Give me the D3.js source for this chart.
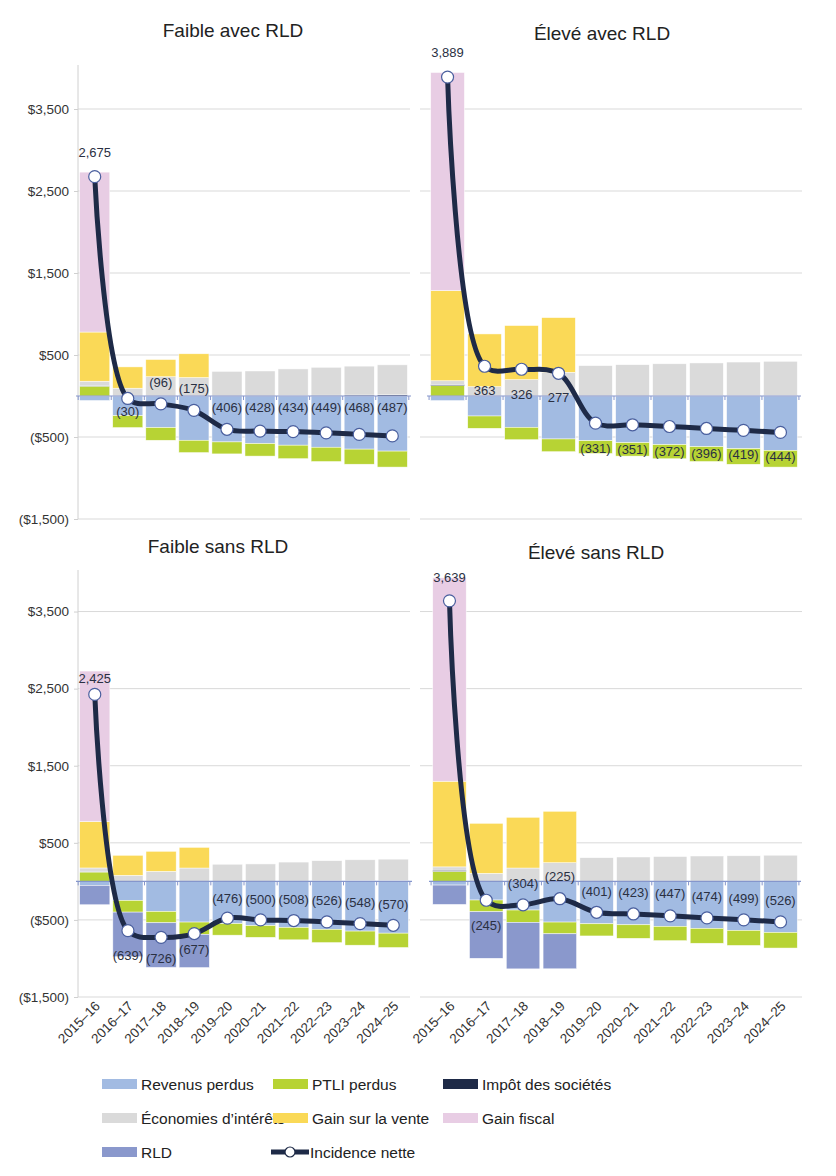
<!DOCTYPE html>
<html><head><meta charset="utf-8">
<script src="https://cdnjs.cloudflare.com/ajax/libs/d3/7.8.5/d3.min.js"></script>
<style>body{margin:0;background:#fff}svg{font-family:"Liberation Sans",Arial,sans-serif}</style>
</head><body><svg id="c" width="836" height="1176"></svg>
<script>
const years=["2015–16","2016–17","2017–18","2018–19","2019–20","2020–21","2021–22","2022–23","2023–24","2024–25"];
const seriesKeys=["revenus","ptli","impot","econ","vente","fiscal","rld"];
const seriesNames=["Revenus perdus","PTLI perdus","Impôt des sociétés","Économies d’intérêts","Gain sur la vente","Gain fiscal","RLD"];
const seriesColors=["#a2bbe2","#b7d334","#1e2a47","#dadada","#fad957","#e8cde4","#8a98cc"];
const yTicks=[-1500,-500,500,1500,2500,3500];
const titles=["Faible avec RLD","Élevé avec RLD","Faible sans RLD","Élevé sans RLD"];

// Faible avec RLD
const p1_revenus=[-55,-240,-385,-540,-560,-580,-600,-625,-648,-672];
const p1_ptli=[120,-145,-155,-150,-146,-153,-164,-174,-184,-195];
const p1_impot=[10,0,0,0,0,0,5,10,12,15];
const p1_econ=[50,95,235,225,300,305,325,340,352,365];
const p1_vente=[600,260,210,290,0,0,0,0,0,0];
const p1_fiscal=[1950,0,0,0,0,0,0,0,0,0];
const p1_rld=[0,0,0,0,0,0,0,0,0,0];
const p1_net=[2675,-30,-96,-175,-406,-428,-434,-449,-468,-487];
const p1_labelAt=[2970,-180,170,100,-135,-135,-135,-135,-135,-135];
// Élevé avec RLD
const p2_revenus=[-56,-244,-382,-524,-545,-569,-593,-618,-642,-663];
const p2_ptli=[126,-150,-151,-155,-156,-164,-172,-181,-191,-204];
const p2_impot=[15,0,0,0,0,0,3,5,7,8];
const p2_econ=[45,114,200,289,370,382,390,398,407,415];
const p2_vente=[1100,643,659,667,0,0,0,0,0,0];
const p2_fiscal=[2659,0,0,0,0,0,0,0,0,0];
const p2_rld=[0,0,0,0,0,0,0,0,0,0];
const p2_net=[3889,363,326,277,-331,-351,-372,-396,-419,-444];
const p2_labelAt=[4190,75,30,-10,-630,-650,-670,-690,-710,-735];
// Faible sans RLD
const p3_revenus=[-52,-247,-390,-528,-548,-574,-597,-622,-645,-672];
const p3_ptli=[121,-152,-147,-160,-150,-152,-161,-172,-183,-186];
const p3_impot=[10,0,0,0,0,0,3,6,8,8];
const p3_econ=[43,78,130,173,222,226,247,262,272,280];
const p3_vente=[602,260,260,268,0,0,0,0,0,0];
const p3_fiscal=[1952,0,0,0,0,0,0,0,0,0];
const p3_rld=[-251,-578,-579,-430,0,0,0,0,0,0];
const p3_net=[2425,-639,-726,-677,-476,-500,-508,-526,-548,-570];
const p3_labelAt=[2636,-960,-990,-880,-210,-225,-225,-245,-270,-300];
// Élevé sans RLD
const p4_revenus=[-48,-242,-372,-528,-550,-563,-584,-610,-636,-662];
const p4_ptli=[130,-152,-160,-152,-158,-176,-185,-193,-195,-203];
const p4_impot=[15,0,0,0,0,0,2,2,3,3];
const p4_econ=[43,104,173,242,307,316,320,327,329,336];
const p4_vente=[1111,649,658,667,0,0,0,0,0,0];
const p4_fiscal=[2639,0,0,0,0,0,0,0,0,0];
const p4_rld=[-251,-604,-603,-454,0,0,0,0,0,0];
const p4_net=[3639,-245,-304,-225,-401,-423,-447,-474,-499,-526];
const p4_labelAt=[3950,-570,-15,65,-120,-140,-155,-195,-220,-245];

const panels=[
 {s:[p1_revenus,p1_ptli,p1_impot,p1_econ,p1_vente,p1_fiscal,p1_rld],net:p1_net,lab:p1_labelAt,x0:79,x1:408,y0:68,y1:519,axis:true,tx:233,ty:37,xl:false,gx0:78,gx1:410},
 {s:[p2_revenus,p2_ptli,p2_impot,p2_econ,p2_vente,p2_fiscal,p2_rld],net:p2_net,lab:p2_labelAt,x0:430,x1:798,y0:68,y1:519,axis:false,tx:602,ty:40,xl:false,gx0:420,gx1:802},
 {s:[p3_revenus,p3_ptli,p3_impot,p3_econ,p3_vente,p3_fiscal,p3_rld],net:p3_net,lab:p3_labelAt,x0:79,x1:409,y0:573,y1:997,axis:true,tx:218,ty:553,xl:true,gx0:78,gx1:410},
 {s:[p4_revenus,p4_ptli,p4_impot,p4_econ,p4_vente,p4_fiscal,p4_rld],net:p4_net,lab:p4_labelAt,x0:432,x1:798,y0:573,y1:997,axis:false,tx:596,ty:559,xl:true,gx0:420,gx1:802}
];
const svg=d3.select("#c");
const fmt=v=>{const s=d3.format(",")(Math.abs(v));return v<0?"("+s+")":s;};
const fmtAx=v=>{const s="$"+d3.format(",")(Math.abs(v));return v<0?"("+s+")":s;};

panels.forEach((p,pi)=>{
  const g=svg.append("g");
  const x=d3.scaleBand().domain(years).range([p.x0,p.x1]).paddingInner(0.09).paddingOuter(0.02);
  const y=d3.scaleLinear().domain([-1500,4000]).range([p.y1,p.y0]);
  // grid
  g.selectAll(".gr").data(yTicks).join("line").attr("x1",p.gx0).attr("x2",p.gx1)
   .attr("y1",d=>y(d)).attr("y2",d=>y(d)).attr("stroke","#d9d9d9").attr("stroke-width",1);
  if(p.axis){
    const ax=g.append("g").attr("transform",`translate(${p.gx0},0)`)
     .call(d3.axisLeft(y).tickValues(yTicks).tickFormat(fmtAx).tickSize(4).tickPadding(5));
    ax.select(".domain").attr("stroke","#d0d0d0").attr("d",`M0,${p.y0-3}V${p.y1}`);
    ax.selectAll(".tick line").attr("stroke","#d0d0d0");
    ax.selectAll("text").attr("font-size",13.5).attr("fill","#333").attr("font-family","Liberation Sans,Arial");
  }
  // stacked data
  const rows=years.map((yr,i)=>{const o={year:yr};seriesKeys.forEach((k,j)=>o[k]=p.s[j][i]);return o;});
  const stack=d3.stack().keys(seriesKeys).offset(d3.stackOffsetDiverging)(rows);
  stack.forEach((layer,j)=>{
    g.selectAll(null).data(layer.filter(d=>d[1]!==d[0])).join("rect")
     .attr("x",d=>x(d.data.year)).attr("width",x.bandwidth())
     .attr("y",d=>y(Math.max(d[0],d[1]))).attr("height",d=>Math.abs(y(d[0])-y(d[1])))
     .attr("fill",seriesColors[j]).attr("stroke","#fff").attr("stroke-width",0.6).attr("stroke-opacity",0.8);
  });
  // zero axis
  g.append("line").attr("x1",p.x0-3).attr("x2",p.x1+3).attr("y1",y(0)).attr("y2",y(0)).attr("stroke","#8596cc").attr("stroke-width",1.2);
  const step=x.step();
  const bnd=d3.range(11).map(i=>p.x0+x.paddingOuter()*step - x.paddingInner()*step/2 + i*step);
  g.selectAll(null).data(bnd).join("line").attr("x1",d=>d).attr("x2",d=>d).attr("y1",y(0)).attr("y2",y(0)+4).attr("stroke","#8596cc");
  // net line
  const cx=i=>x(years[i])+x.bandwidth()/2;
  const line=d3.line().x((d,i)=>cx(i)).y(d=>y(d)).curve(d3.curveCatmullRom.alpha(0.5));
  g.append("path").attr("d",line(p.net)).attr("fill","none").attr("stroke","#1e2a47").attr("stroke-width",5);
  g.selectAll(null).data(p.net).join("circle").attr("cx",(d,i)=>cx(i)).attr("cy",d=>y(d)).attr("r",6)
   .attr("fill","#fff").attr("stroke","#4a5f9e").attr("stroke-width",1.2);
  g.selectAll(null).data(p.net).join("text").attr("x",(d,i)=>cx(i)).attr("y",(d,i)=>y(p.lab[i])+5)
   .attr("text-anchor","middle").attr("font-size",13).attr("fill","#2a3042").text(fmt);
  // title
  g.append("text").attr("x",p.tx).attr("y",p.ty).attr("text-anchor","middle").attr("font-size",19).attr("fill","#222").text(titles[pi]);
  if(p.xl){
    g.selectAll(null).data(years).join("text")
     .attr("transform",d=>`translate(${x(d)+x.bandwidth()/2+6},${p.y1+10}) rotate(-45)`)
     .attr("text-anchor","end").attr("font-size",13.5).attr("fill","#333").text(d=>d);
  }
});
// legend
const leg=[[0,102,1084],[1,273,1084],[2,443,1084],[3,102,1118],[4,273,1118],[5,443,1118],[6,102,1152]];
leg.forEach(([j,lx,ly])=>{
  svg.append("rect").attr("x",lx).attr("y",ly-5).attr("width",35).attr("height",10).attr("fill",seriesColors[j]);
  svg.append("text").attr("x",lx+39).attr("y",ly+5.5).attr("font-size",15.5).attr("fill","#222").text(seriesNames[j]);
});
svg.append("line").attr("x1",271).attr("x2",309).attr("y1",1152).attr("y2",1152).attr("stroke","#1e2a47").attr("stroke-width",5);
svg.append("circle").attr("cx",290).attr("cy",1152).attr("r",5).attr("fill","#fff").attr("stroke","#1e2a47").attr("stroke-width",1.2);
svg.append("text").attr("x",310).attr("y",1157.5).attr("font-size",15.5).attr("fill","#222").text("Incidence nette");
</script></body></html>
